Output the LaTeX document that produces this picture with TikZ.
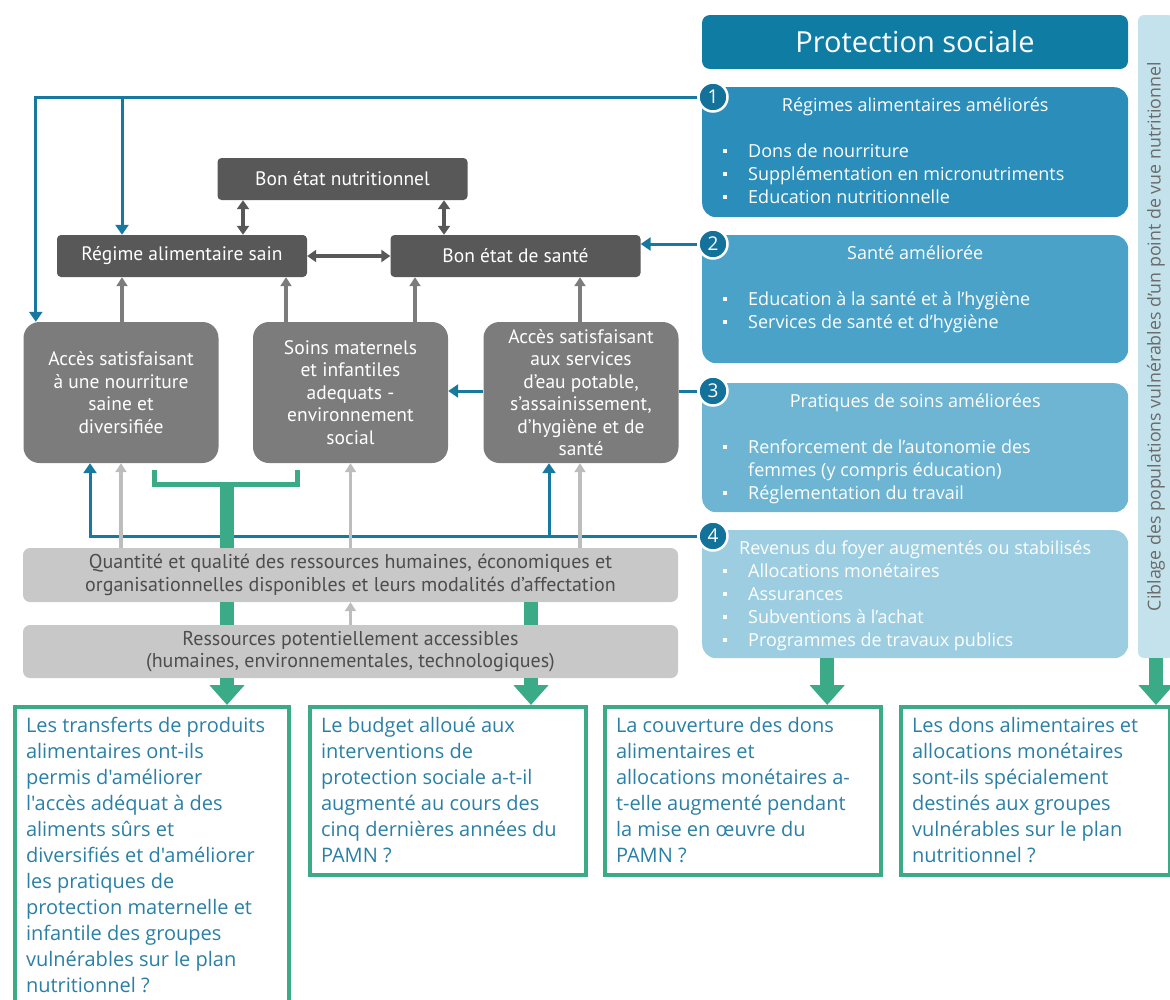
\documentclass[tikz,border=0pt]{standalone}
\usepackage{fontspec}
\setmainfont{PT Sans}
\newfontfamily\opensans{Open Sans}
\usetikzlibrary{arrows.meta}
\definecolor{dkbox}{HTML}{585858}
\definecolor{mdbox}{HTML}{7C7C7C}
\definecolor{ltbox}{HTML}{C8C8C8}
\definecolor{ltarrow}{HTML}{BDBDBD}
\definecolor{restext}{HTML}{4D4D4D}
\definecolor{lnblue}{HTML}{17799F}
\definecolor{dotblue}{HTML}{13729A}
\definecolor{headblue}{HTML}{0F7CA4}
\definecolor{pan1}{HTML}{2A8DBA}
\definecolor{pan2}{HTML}{4AA2C8}
\definecolor{pan3}{HTML}{6DB5D3}
\definecolor{pan4}{HTML}{9CCDE1}
\definecolor{barblue}{HTML}{C4E2EC}
\definecolor{bartext}{HTML}{6A6A6A}
\definecolor{qgreen}{HTML}{3AAA87}
\definecolor{qblue}{HTML}{2A7FA6}
\newcommand{\ptitle}[1]{\vspace*{11pt}{\centering #1\par}}
\newcommand{\pitem}[1]{\hspace*{21pt}\makebox[25pt][l]{\rule[0.28em]{3.5pt}{3.5pt}}#1\par}
\newcommand{\pmore}[1]{\hspace*{46pt}#1\par}
\newcommand{\qlines}[1]{\begin{tabular}[t]{@{}l@{}}#1\end{tabular}}
\tikzset{
  topbox/.style={fill=dkbox, text=white, rounded corners=4pt, minimum width=250pt, minimum height=42pt, inner sep=0pt, font=\fontsize{19.5}{22}\selectfont},
  midbox/.style={fill=mdbox, text=white, rounded corners=16pt, minimum width=195pt, minimum height=141pt, inner sep=0pt, align=center, font=\fontsize{19.5}{22.5}\selectfont},
  resbox/.style={fill=ltbox, text=restext, rounded corners=7pt, minimum width=655pt, inner sep=0pt, align=center, font=\fontsize{20}{22.5}\selectfont},
  panel/.style={rounded corners=14pt, inner sep=0pt, text=white, anchor=north west, font=\opensans\fontsize{18}{23}\selectfont},
  numdot/.style={circle, fill=dotblue, draw=white, line width=2.5pt, minimum size=29pt, inner sep=0pt, text=white, font=\opensans\fontsize{19}{19}\selectfont},
  targetbar/.style={fill=barblue, rotate=90, rounded corners=6pt, minimum width=643pt, minimum height=36pt, inner sep=0pt, text=bartext, font=\opensans\fontsize{17.8}{17.8}\selectfont},
  question/.style={draw=qgreen, line width=4pt, text=qblue, anchor=north west, inner xsep=11pt, inner ysep=7pt, font=\opensans\fontsize{20}{26}\selectfont},
  blueline/.style={draw=lnblue, line width=3pt},
  bluearrow/.style={blueline, -{Triangle[length=10pt,width=13pt]}},
  dkboth/.style={draw=dkbox, line width=4pt, {Triangle[length=9pt,width=12pt]}-{Triangle[length=9pt,width=12pt]}},
  mdup/.style={draw=mdbox, line width=3.5pt, -{Triangle[length=9pt,width=11pt]}},
  ltup/.style={draw=ltarrow, line width=3.5pt, -{Triangle[length=9pt,width=11pt]}},
  greenline/.style={draw=qgreen, line width=5pt},
  greenstem/.style={draw=qgreen, line width=14pt},
  greenarrow/.style={greenstem, -{Triangle[length=20pt,width=34pt]}}
}
\begin{document}
\begin{tikzpicture}[x=1pt,y=-1pt]
\useasboundingbox (0,0) rectangle (1170,999);
\node[topbox] (nutri) at (342.5,179) {Bon état nutritionnel};
\node[topbox] (regime) at (182,256) {Régime alimentaire sain};
\node[topbox] (sante) at (515.5,256) {Bon état de santé};
\node[midbox] (acces) at (121,392.5) {Accès satisfaisant\\à une nourriture\\saine et\\diversifiée};
\node[midbox] (soins) at (350.5,392.5) {Soins maternels\\et infantiles\\adequats -\\environnement\\social};
\node[midbox] (eau) at (581,392.5) {Accès satisfaisant\\aux services\\d’eau potable,\\s’assainissement,\\d’hygiène et de\\santé};
\node[resbox, minimum height=54pt] (quant) at (350.5,575) {Quantité et qualité des ressources humaines, économiques et\\organisationnelles disponibles et leurs modalités d’affectation};
\node[resbox, minimum height=53pt] (ress) at (350.5,651.5) {Ressources potentiellement  accessibles\\(humaines, environnementales,  technologiques)};

\node[fill=headblue, text=white, rounded corners=8pt, minimum width=426pt, minimum height=54pt, font=\opensans\fontsize{29}{29}\selectfont] (head) at (915,42) {Protection sociale};
\node[panel, fill=pan1] (p1) at (702,87) {\parbox[c][130pt][t]{426pt}{\ptitle{Régimes alimentaires  améliorés}\vspace{23pt}
  \pitem{Dons de nourriture}\pitem{Supplémentation  en micronutriments}\pitem{Education  nutritionnelle}}};
\node[panel, fill=pan2] (p2) at (702,235) {\parbox[c][128pt][t]{426pt}{\ptitle{Santé améliorée}\vspace{23pt}
  \pitem{Education  à la santé et à l’hygiène}\pitem{Services de santé et d’hygiène}}};
\node[panel, fill=pan3] (p3) at (702,383) {\parbox[c][129pt][t]{426pt}{\ptitle{Pratiques de soins améliorées}\vspace{23pt}
  \pitem{Renforcement de l’autonomie des}\pmore{femmes (y compris éducation)}\pitem{Réglementation du travail}}};
\node[panel, fill=pan4] (p4) at (702,530) {\parbox[c][128pt][t]{426pt}{\ptitle{Revenus du foyer augmentés ou stabilisés}
  \pitem{Allocations  monétaires}\pitem{Assurances}\pitem{Subventions à l’achat}\pitem{Programmes de travaux publics}}};
\node[targetbar] (bar) at (1156,336.5) {Ciblage des populations vulnérables d’un point de vue nutritionnel};
\node[numdot] (c1) at (713,97) {1};
\node[numdot] (c2) at (713,244) {2};
\node[numdot] (c3) at (713,391) {3};
\node[numdot] (c4) at (713,536) {4};

\node[question] (q1) at (13,705) {\parbox[c][293pt][t]{252pt}{\qlines{Les transferts de produits\\alimentaires ont-ils\\permis d'améliorer\\l'accès adéquat à des\\aliments sûrs et\\diversifiés et d'améliorer\\les pratiques de\\protection maternelle et\\infantile des groupes\\vulnérables sur le plan\\nutritionnel ?}}};
\node[question] (q2) at (308,705) {\parbox[c][154pt][t]{254pt}{\qlines{Le budget alloué  aux\\interventions de\\protection sociale a-t-il\\augmenté au cours des\\cinq dernières années du\\PAMN ?}}};
\node[question] (q3) at (603,705) {\parbox[c][154pt][t]{254pt}{\qlines{La couverture des dons\\alimentaires et\\allocations monétaires a-\\t-elle augmenté pendant\\la mise en œuvre du\\PAMN ?}}};
\node[question] (q4) at (899,705) {\parbox[c][154pt][t]{247pt}{\qlines{Les dons alimentaires et\\allocations monétaires\\sont-ils spécialement\\destinés aux groupes\\vulnérables sur le plan\\nutritionnel ?}}};

\draw[bluearrow] (c1.west) -| ([xshift=12.5pt]acces.north west);
\coordinate (j1) at (122,97);
\draw[bluearrow] (j1) -- (j1 |- regime.north);
\draw[bluearrow] (c2.west) -- (c2.west -| sante.east);
\draw[blueline] (c3.west) -- (c3.west -| eau.east);
\draw[bluearrow] (c3.west -| eau.west) -- (c3.west -| soins.east);
\draw[bluearrow] (c4.west) -| ([xshift=-31pt]acces.south);
\coordinate (j4) at (549,536);
\draw[bluearrow] (j4) -- (j4 |- eau.south);

\draw[dkboth] ([xshift=61pt]regime.north) -- ([xshift=61pt]regime.north |- nutri.south);
\draw[dkboth] ([xshift=-71.5pt]sante.north) -- ([xshift=-71.5pt]sante.north |- nutri.south);
\draw[dkboth] (regime) -- (sante);
\draw[mdup] ([xshift=1pt]acces.north) -- ([xshift=1pt]acces.north |- regime.south);
\draw[mdup] ([xshift=-64.5pt]soins.north) -- ([xshift=-64.5pt]soins.north |- regime.south);
\draw[mdup] ([xshift=64.5pt]soins.north) -- ([xshift=64.5pt]soins.north |- sante.south);
\draw[mdup] ([xshift=-1pt]eau.north) -- ([xshift=-1pt]eau.north |- sante.south);
\draw[ltup] (acces.south |- quant.north) -- (acces.south);
\draw[ltup] (soins.south |- quant.north) -- (soins.south);
\draw[ltup] ([xshift=-1pt]eau.south |- quant.north) -- ([xshift=-1pt]eau.south);
\draw[ltup] (ress.north) -- (quant.south);

\coordinate (gl) at (154,470);
\coordinate (gr) at (297,470);
\coordinate (gm) at (227,484);
\draw[greenline] (gl) -- (gl |- gm) -- (gr |- gm) -- (gr);
\draw[greenstem] (gm) -- (gm |- quant.north);
\draw[greenstem] (gm |- quant.south) -- (gm |- ress.north);
\draw[greenarrow] (gm |- ress.south) -- (gm |- q1.north);
\draw[greenstem] ([xshift=180.5pt]quant.south) -- ([xshift=180.5pt]ress.north);
\draw[greenarrow] ([xshift=180.5pt]ress.south) -- ([xshift=180.5pt]ress.south |- q2.north);
\draw[greenarrow] ([xshift=-88pt]p4.south) -- ([xshift=-88pt]p4.south |- q3.north);
\draw[greenarrow] (bar.west) -- (bar.west |- q4.north);
\end{tikzpicture}
\end{document}
